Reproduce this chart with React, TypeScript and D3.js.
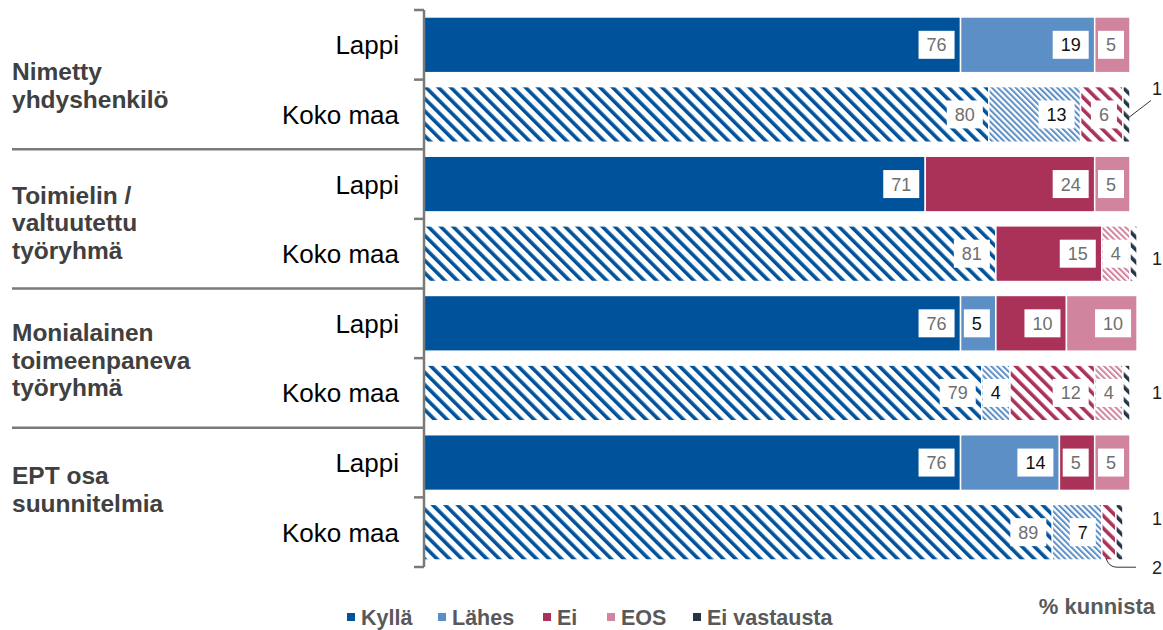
import React from 'react'
import * as d3 from 'd3'

// group names (multi-line) and row names
const groupLabels = [
  ['Nimetty', 'yhdyshenkilö'],
  ['Toimielin /', 'valtuutettu', 'työryhmä'],
  ['Monialainen', 'toimeenpaneva', 'työryhmä'],
  ['EPT osa', 'suunnitelmia'],
]
const regions = ['Lappi', 'Koko maa']
const seriesNames = ['Kyllä', 'Lähes', 'Ei', 'EOS', 'Ei vastausta']
const seriesColors = ['#00529b', '#5b8fc6', '#aa3157', '#d0849d', '#253447']
const labelColors = ['#6f6f6f', '#111111', '#6f6f6f', '#6f6f6f', '#6f6f6f']

// one value per row: Lappi, Koko maa, Lappi, Koko maa ...
const kylla = [76, 80, 71, 81, 76, 79, 76, 89]
const lahes = [19, 13, 0, 0, 5, 4, 14, 7]
const ei = [0, 6, 24, 15, 10, 12, 5, 2]
const eos = [5, 0, 5, 4, 10, 4, 5, 0]
const eiVastausta = [0, 1, 0, 1, 0, 1, 0, 1]
const eiSolid = [true, false, true, true, true, false, true, false]

// small values labelled outside the bar
const outsideLabels = [
  { row: 1, s: 4, dy: -26, leader: true },
  { row: 3, s: 4, dy: 5, leader: false },
  { row: 5, s: 4, dy: 0, leader: false },
  { row: 7, s: 4, dy: -14, leader: false },
  { row: 7, s: 2, dy: 35, leader: true },
]

const W = 1163
const H = 630
const font = '"Liberation Sans", Arial, sans-serif'

export default function App() {
  const values = [kylla, lahes, ei, eos, eiVastausta]
  const rows = d3.range(kylla.length)
  const x = d3.scaleLinear().domain([0, 100]).range([424, 1130])
  const y = d3.scaleBand<number>().domain(rows).range([10, 567]).paddingInner(0.2).paddingOuter(0.1)
  const step = y.step()
  const top = 10
  const rowTop = (r: number) => top + r * step
  const center = (r: number) => (y(r) ?? 0) + y.bandwidth() / 2

  const stacked = rows.map(r => {
    let acc = 0
    return values.map((vals, s) => {
      const v = vals[r]
      const seg = { r, s, v, x0: acc, x1: acc + v }
      acc += v
      return seg
    })
  })

  const hatched = (r: number, s: number) => r % 2 === 1 && !(s === 2 && eiSolid[r])
  const fine = [false, true, false, true, false]

  return (
    <svg width={W} height={H} style={{ position: 'absolute', left: 0, top: 0, display: 'block' }} fontFamily={font}>
      <defs>
        {seriesColors.map((c, i) => {
          const sp = fine[i] ? 4.2 : 8.8
          const t = fine[i] ? 2 : 3.6
          return (
            <pattern key={i} id={`hatch-${i}`} width={sp} height={sp} patternUnits="userSpaceOnUse" patternTransform="rotate(-45)">
              <rect width={sp} height={sp} fill="white" />
              <rect width={t} height={sp} fill={c} />
            </pattern>
          )
        })}
      </defs>
      <rect width={W} height={H} fill="white" />

      {/* bars */}
      {stacked.flat().filter(d => d.v > 0).map((d, i) => (
        <rect key={i} x={x(d.x0)} y={y(d.r)} width={x(d.x1) - x(d.x0)} height={y.bandwidth()}
          fill={hatched(d.r, d.s) ? `url(#hatch-${d.s})` : seriesColors[d.s]} stroke="white" strokeWidth={1.5} />
      ))}

      {/* inside labels */}
      {stacked.flat().filter(d => d.v >= 3).map((d, i) => {
        const fs = 18
        const tw = String(d.v).length * fs * 0.556
        const bw = tw + 16
        const bh = 28
        const sx0 = x(d.x0)
        const sx1 = x(d.x1)
        let bx = sx1 - 6 - bw
        if (bx < sx0 + 3) bx = (sx0 + sx1) / 2 - bw / 2
        const cy = center(d.r)
        return (
          <g key={i}>
            <rect x={bx} y={cy - bh / 2} width={bw} height={bh} fill="white" />
            <text x={bx + bw / 2} y={cy + 6.5} textAnchor="middle" fontSize={fs} fill={labelColors[d.s]}>{d.v}</text>
          </g>
        )
      })}

      {/* outside labels */}
      {outsideLabels.map((o, i) => {
        const seg = stacked[o.row][o.s]
        const cy = center(o.row)
        const lx = x(100) + 22
        const ly = cy + o.dy
        let leader = null
        if (o.leader) {
          const sx = (x(seg.x0) + x(seg.x1)) / 2
          if (o.dy < 0) {
            leader = <path d={`M${sx + 1},${cy + 4} L${lx - 1},${ly + 12}`} fill="none" stroke="#333" strokeWidth={1} />
          } else {
            const by = (y(o.row) ?? 0) + y.bandwidth()
            leader = <path d={`M${sx - 3},${by - 2} Q${sx},${ly} ${sx + 8},${ly} L${lx - 16},${ly}`} fill="none" stroke="#333" strokeWidth={1} />
          }
        }
        return (
          <g key={i}>
            {leader}
            <text x={lx} y={ly + 6.5} fontSize={18} fill="#222">{seg.v}</text>
          </g>
        )
      })}

      {/* axis and ticks */}
      <line x1={424} x2={424} y1={top} y2={rowTop(rows.length)} stroke="#7a7a7a" strokeWidth={2.5} />
      {d3.range(rows.length + 1).map(k => (
        <line key={k} x1={k % 2 === 0 && k > 0 && k < rows.length ? 12 : 414} x2={424}
          y1={rowTop(k)} y2={rowTop(k)} stroke="#7a7a7a" strokeWidth={2.5} />
      ))}

      {/* row labels */}
      {rows.map(r => (
        <text key={r} x={399} y={center(r) + 9.5} textAnchor="end" fontSize={26} fill="#000">{regions[r % 2]}</text>
      ))}

      {/* group labels */}
      {groupLabels.map((lines, g) => {
        const gc = rowTop(g * 2) + step
        const lh = 27.5
        const shift = [6, 4, 2, -8][g]
        const first = gc - ((lines.length - 1) * lh) / 2 + 8.5 + shift
        return (
          <text key={g} x={12} fontSize={24.5} fontWeight={700} fill="#404040">
            {lines.map((l, j) => (
              <tspan key={j} x={12} y={first + j * lh}>{l}</tspan>
            ))}
          </text>
        )
      })}

      {/* legend */}
      {seriesNames.map((n, i) => {
        const lx = [347, 438, 543, 607, 693][i]
        return (
          <g key={n}>
            <rect x={lx} y={613} width={8} height={8} fill={seriesColors[i]} />
            <text x={lx + 14} y={625} fontSize={21.5} fontWeight={700} fill="#595959">{n}</text>
          </g>
        )
      })}
      <text x={1155} y={614} textAnchor="end" fontSize={22} fontWeight={700} fill="#595959">% kunnista</text>
    </svg>
  )
}
